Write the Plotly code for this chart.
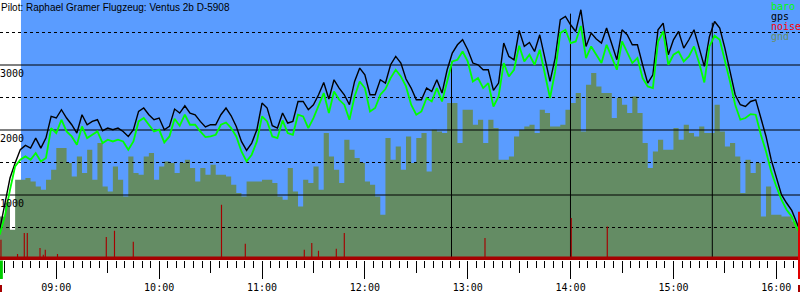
import plotly.graph_objects as go
import pandas as pd

# ---------------- data ----------------
title_text = "Pilot: Raphael Gramer Flugzeug: Ventus 2b D-5908"
legend_names = ["baro", "gps", "noise", "gnd"]
day = "2010-05-15"
sample_start = day + " 08:27:00"
sample_step = "3min"

gps_alt = [
    466, 850, 1261, 1492, 1697, 1763, 1722, 1876, 1722, 1880,
    2209, 2184, 2312, 2184, 2081, 1953, 2235, 2081, 2132, 2158,
    1989, 2030, 2004, 2030, 1978, 1901, 2004, 2286, 2338, 2235,
    2158, 2184, 2004, 2055, 2322, 2261, 2373, 2261, 2235, 2132,
    2046, 2081, 2081, 2235, 2338, 2219, 2055, 1824, 1686, 1799,
    2004, 2415, 2338, 2066, 2030, 2261, 2107, 2132, 2439, 2439,
    2312, 2389, 2542, 2732, 2476, 2773, 2645, 2542, 2389, 2747,
    2953, 2850, 2542, 2542, 2773, 2722, 3004, 3132, 3030, 2784,
    2645, 2465, 2465, 2645, 2593, 2773, 2568, 2927, 3184, 3311,
    3388, 3234, 3030, 3004, 2927, 2927, 2609, 2722, 3337, 3132,
    3081, 3532, 3286, 3347, 3208, 3465, 3081, 2747, 3107, 3696,
    3747, 3619, 3516, 3850, 3286, 3491, 3399, 3337, 3568, 3337,
    3081, 3542, 3465, 3311, 3311, 3004, 2722, 2850, 3542, 3645,
    3158, 3388, 3516, 3260, 3388, 3542, 3260, 2978, 3439, 3670,
    3568, 3260, 2901, 2542, 2389, 2362, 2439, 2465, 2184, 1901,
    1543, 1286, 1004, 877, 763, 569, 360,
]

baro_alt = [
    389, 671, 1081, 1440, 1543, 1594, 1543, 1646, 1517, 1570,
    2030, 1953, 2158, 1978, 1901, 1773, 2055, 1876, 1927, 1978,
    1799, 1850, 1824, 1850, 1824, 1696, 1824, 2132, 2184, 2081,
    1978, 2004, 1809, 1901, 2173, 2066, 2235, 2081, 2081, 1978,
    1891, 1901, 1927, 2081, 2116, 2030, 1901, 1670, 1517, 1620,
    1824, 2209, 2132, 1901, 1876, 2147, 1953, 1927, 2235, 2209,
    2030, 2184, 2362, 2568, 2261, 2593, 2465, 2389, 2158, 2516,
    2747, 2645, 2286, 2338, 2542, 2630, 2799, 2927, 2824, 2670,
    2389, 2235, 2286, 2492, 2439, 2645, 2439, 2747, 3055, 3081,
    3208, 3055, 2747, 2799, 2645, 2722, 2362, 2516, 3030, 2824,
    2927, 3296, 3055, 3158, 3004, 3234, 2850, 2492, 2901, 3491,
    3542, 3337, 3362, 3600, 3107, 3286, 3158, 3030, 3311, 3132,
    2927, 3362, 3208, 3030, 3107, 2799, 2670, 2645, 3362, 3516,
    3004, 3158, 3208, 3055, 3132, 3286, 3030, 2732, 3286, 3450,
    3388, 3081, 2747, 2389, 2158, 2184, 2245, 2235, 1927, 1670,
    1363, 1132, 927, 774, 671, 492, 360,
]

gnd_alt = [
    671, 881, 466, 1235, 1235, 1261, 1209, 1132, 1081, 1235,
    1389, 1722, 1722, 1492, 1286, 1594, 1338, 1696, 1235, 1799,
    1132, 1055, 1440, 1235, 978, 1594, 1338, 1312, 1594, 1646,
    1235, 1440, 1517, 1492, 1338, 1492, 1543, 1415, 1209, 1415,
    1312, 1466, 1312, 1312, 1286, 1158, 1030, 978, 1209, 1209,
    1209, 1235, 1235, 1184, 978, 927, 1415, 1055, 824, 1235,
    1184, 1440, 1081, 1953, 1594, 1389, 1184, 1850, 1696, 1569,
    1492, 1209, 1158, 978, 697, 1876, 1543, 1747, 1389, 1901,
    1492, 1876, 1953, 1363, 2004, 1978, 1953, 2415, 2415, 1799,
    2312, 2312, 2081, 2158, 1799, 2158, 2030, 1543, 1543, 1594,
    1901, 2004, 2055, 2081, 1953, 2312, 2261, 2055, 2055, 2081,
    2312, 2415, 2568, 1978, 2696, 2876, 2670, 2568, 2568, 2184,
    2492, 2389, 2261, 2516, 2261, 1799, 1415, 1670, 1850, 1696,
    1696, 2030, 1850, 2081, 1953, 1901, 2055, 1953, 1953, 2389,
    1978, 1747, 1799, 1594, 1030, 1543, 1338, 1492, 671, 1132,
    697, 697, 671, 671, 594, 466, 466,
]

noise_base = 55
noise_times = ["08:27:44", "08:37:24", "08:41:20", "08:43:05", "08:50:30",
               "08:52:25", "08:53:35", "09:00:42", "09:29:10", "09:33:57",
               "09:44:55", "10:36:22", "10:50:15", "11:24:40", "11:29:02",
               "11:32:56", "11:43:20", "11:48:00", "13:10:04", "14:00:24",
               "14:21:24"]
noise_vals = [310, 92, 415, 415, 185, 82, 158, 92, 354, 450,
              280, 850, 250, 158, 261, 143, 174, 415, 338, 646, 517]

turnpoint_times = ["12:50:32", "13:59:56", "15:22:40"]
turnpoint_alt = [3050, 3790, 3650]

x_start, x_end = "08:27:10", "16:13:49"
flight_blue_start = "08:39:24"
end_marker_alt = 743

y_solid = [1000, 2000, 3000]
y_dashed = [500, 1500, 2500, 3500]

# ---------------- styling ----------------
BLUE = "#5a9cff"
GND = "#648c64"
NOISE = "#a50000"
BARO = "#00ff00"
MONO = "DejaVu Sans Mono"

times = pd.date_range(sample_start, periods=len(gps_alt), freq=sample_step)
xs = pd.Timestamp(day + " " + x_start)
xe = pd.Timestamp(day + " " + x_end)

fig = go.Figure()

# ground
fig.add_trace(go.Scatter(x=times, y=gnd_alt, mode="lines", line=dict(width=0, shape="hv"),
                         fill="tozeroy", fillcolor=GND, hoverinfo="skip"))

# grid lines (above ground)
for v in y_solid:
    fig.add_trace(go.Scatter(x=[xs, xe], y=[v, v], mode="lines",
                             line=dict(color="black", width=1), hoverinfo="skip"))
for v in y_dashed:
    fig.add_trace(go.Scatter(x=[xs, xe], y=[v, v], mode="lines",
                             line=dict(color="black", width=1, dash="3px,3px"), hoverinfo="skip"))

# turnpoint drop lines
tx, ty = [], []
for t, a in zip(turnpoint_times, turnpoint_alt):
    ts = pd.Timestamp(day + " " + t)
    tx += [ts, ts, None]
    ty += [0, a, None]
fig.add_trace(go.Scatter(x=tx, y=ty, mode="lines", line=dict(color="black", width=1),
                         hoverinfo="skip"))

# noise (base band + spikes)
hw = pd.Timedelta(seconds=20)
nx, ny = [xs - pd.Timedelta(minutes=2)], [noise_base]
for t, v in zip(noise_times, noise_vals):
    ts = pd.Timestamp(day + " " + t)
    nx += [ts - hw, ts - hw, ts + hw, ts + hw]
    ny += [noise_base, v, v, noise_base]
nx.append(xe + pd.Timedelta(minutes=2))
ny.append(noise_base)
fig.add_trace(go.Scatter(x=nx, y=ny, mode="lines", line=dict(width=0),
                         fill="tozeroy", fillcolor=NOISE, hoverinfo="skip"))

# gps and baro
fig.add_trace(go.Scatter(x=times, y=gps_alt, mode="lines",
                         line=dict(color="black", width=1.4), hoverinfo="skip"))
fig.add_trace(go.Scatter(x=times, y=baro_alt, mode="lines",
                         line=dict(color=BARO, width=1.8), hoverinfo="skip"))

# dummy for the half-hour tick axis
fig.add_trace(go.Scatter(x=[xs], y=[0], xaxis="x2", mode="markers",
                         marker=dict(opacity=0), hoverinfo="skip"))

shapes = [
    dict(type="rect", xref="x", yref="paper", x0=pd.Timestamp(day + " " + flight_blue_start),
         x1=xe, y0=0, y1=1, fillcolor=BLUE, line=dict(width=0), layer="below"),
    # start marker
    dict(type="rect", xref="x", yref="paper", x0=xs, x1=xs + pd.Timedelta(seconds=100),
         y0=-0.002, y1=-0.073, fillcolor="#00cc00", line=dict(width=0)),
    dict(type="rect", xref="x", yref="paper", x0=xs, x1=xs + pd.Timedelta(seconds=70),
         y0=-0.096, y1=-0.123, fillcolor=NOISE, line=dict(width=0)),
    # end marker
    dict(type="rect", xref="x", yref="paper", x0=xe - pd.Timedelta(seconds=70), x1=xe,
         y0=-0.073, y1=end_marker_alt / 4000, fillcolor="#e00000", line=dict(width=0)),
    dict(type="rect", xref="x", yref="paper", x0=xe - pd.Timedelta(seconds=70), x1=xe,
         y0=-0.096, y1=-0.123, fillcolor=NOISE, line=dict(width=0)),
]

annotations = [
    dict(xref="paper", yref="paper", x=0, y=1, xanchor="left", yanchor="top",
         text=title_text, showarrow=False, xshift=-1, yshift=0,
         font=dict(family="Liberation Sans", size=10, color="black")),
]
for v in y_solid:
    annotations.append(dict(xref="paper", yref="y", x=0, y=v, xanchor="left", yanchor="top",
                            text=str(v), showarrow=False, xshift=-2, yshift=-1,
                            font=dict(family=MONO, size=10, color="black")))
legend_colors = [BARO, "black", "#ff0000", "#6b8f63"]
for k, (name, col) in enumerate(zip(legend_names, legend_colors)):
    annotations.append(dict(xref="paper", yref="paper", x=770 / 800, y=1,
                            xanchor="left", yanchor="top", text=name, showarrow=False,
                            xshift=-1, yshift=1 - 10 * k,
                            font=dict(family=MONO, size=10, color=col)))

fig.update_layout(
    width=800, height=300,
    margin=dict(l=0, r=0, t=0, b=40),
    paper_bgcolor="white", plot_bgcolor="white",
    showlegend=False,
    shapes=shapes, annotations=annotations,
    xaxis=dict(type="date", range=[xs, xe], showgrid=False, zeroline=False, showline=False,
               ticks="outside", ticklen=18, tickwidth=1, tickcolor="black",
               tick0=day + " 00:00", dtick=3600000, tickformat="%H:%M",
               tickfont=dict(family=MONO, size=10, color="black"),
               minor=dict(ticks="outside", dtick=300000, tick0=day + " 00:00",
                          ticklen=7, tickwidth=1, tickcolor="black", showgrid=False)),
    xaxis2=dict(type="date", range=[xs, xe], overlaying="x", anchor="y", side="bottom",
                showgrid=False, zeroline=False, showline=False, showticklabels=False,
                ticks="outside", ticklen=12, tickwidth=1, tickcolor="black",
                tick0=day + " 00:00", dtick=1800000),
    yaxis=dict(range=[0, 4000], showgrid=False, zeroline=False, showticklabels=False,
               ticks="", fixedrange=True),
)

fig.write_html("out.html")
